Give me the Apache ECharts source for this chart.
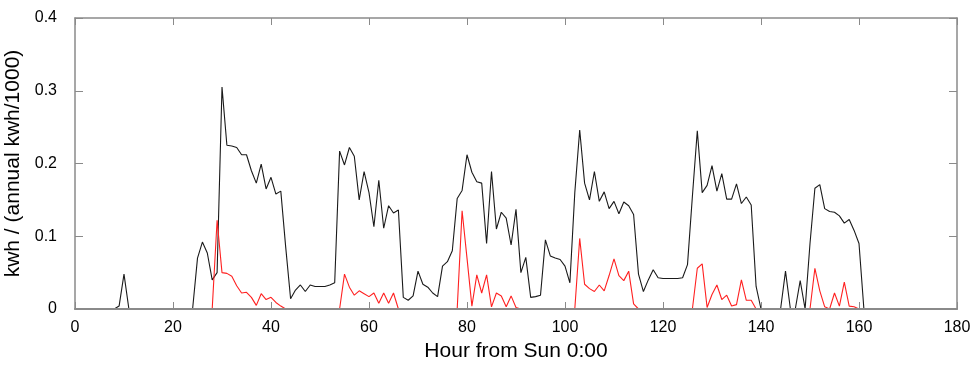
<!DOCTYPE html>
<html>
<head>
<meta charset="utf-8">
<script src="https://cdn.jsdelivr.net/npm/echarts@6/dist/echarts.min.js"></script>
<style>
html,body{margin:0;padding:0;background:#fff;}
#chart{width:980px;height:367px;}
</style>
</head>
<body>
<div id="chart"></div>
<script>
// Hours from Sunday 0:00 (0..167)
var hours = [];
for (var i = 0; i < 168; i++) hours.push(i);

// Total load (black)
var totalLoad = [
0,0,0,0,0,0,0,0,0,0.004,
0.048,0,0,0,0,0,0,0,0,0,
0,0,0,0,0,0.07,0.092,0.077,0.04,0.05,
0.305,0.225,0.224,0.222,0.212,0.212,0.19,0.173,0.199,0.165,
0.181,0.158,0.162,0.085,0.014,0.026,0.033,0.024,0.033,0.031,
0.031,0.031,0.033,0.036,0.217,0.198,0.222,0.21,0.15,0.189,
0.16,0.113,0.177,0.111,0.142,0.132,0.136,0.016,0.012,0.018,
0.052,0.034,0.03,0.022,0.017,0.059,0.065,0.08,0.152,0.163,
0.212,0.188,0.175,0.173,0.09,0.189,0.11,0.133,0.125,0.088,
0.137,0.05,0.071,0.016,0.017,0.019,0.095,0.073,0.07,0.068,
0.059,0.036,0.16,0.246,0.173,0.15,0.189,0.148,0.161,0.138,
0.148,0.131,0.147,0.142,0.13,0.048,0.024,0.04,0.054,0.043,
0.042,0.042,0.042,0.042,0.043,0.061,0.155,0.245,0.16,0.17,
0.197,0.162,0.186,0.151,0.151,0.172,0.145,0.154,0.143,0.031,
0,0,0,0,0,0.052,0,0,0.039,0,
0.09,0.166,0.171,0.138,0.134,0.133,0.128,0.118,0.123,0.108,
0.09,0,0,0,0,0,0,0
];

// Component load (red)
var partLoad = [
0,0,0,0,0,0,0,0,0,0,
0,0,0,0,0,0,0,0,0,0,
0,0,0,0,0,0,0,0,0,0.122,
0.05,0.049,0.045,0.032,0.022,0.023,0.016,0.005,0.021,0.013,
0.016,0.009,0.004,0,0,0,0,0,0,0,
0,0,0,0,0,0.048,0.03,0.019,0.025,0.021,
0.017,0.022,0.008,0.022,0.008,0.022,0,0,0,0,
0,0,0,0,0,0,0,0,0,0.135,
0.07,0.004,0.047,0.022,0.047,0.003,0.022,0.018,0.003,0.018,
0.002,0,0,0,0,0,0,0,0,0,
0,0,0,0.097,0.034,0.028,0.024,0.033,0.025,0.046,
0.069,0.046,0.039,0.052,0.007,0,0,0,0,0,
0,0,0,0,0,0,0,0.056,0.062,0.002,
0.02,0.033,0.013,0.019,0.004,0.006,0.04,0.012,0.012,0,
0,0,0,0,0,0,0,0,0,0,
0,0.056,0.025,0.003,0,0.022,0.004,0.037,0.004,0.003,
0,0,0,0,0,0,0,0
];

var xTicks = {min: 0, max: 180, interval: 20};
var yTicks = {min: 0, max: 0.4, interval: 0.1};

function pairs(vals){ return hours.map(function(h,i){ return [h, vals[i]]; }); }

var axisColor = '#8a8a8a';
var font = 'Liberation Sans, Arial, Helvetica, sans-serif';
var chart = echarts.init(document.getElementById('chart'), null, {renderer:'canvas'});
chart.setOption({
  animation: false,
  backgroundColor: '#fff',
  grid: {left: 75, right: 23, top: 18, bottom: 58, containLabel: false, outerBoundsMode: 'none'},
  xAxis: [{
    type: 'value', min: xTicks.min, max: xTicks.max, interval: xTicks.interval, z: 10, zlevel: 0,
    name: 'Hour from Sun 0:00', nameLocation: 'middle', nameGap: 32,
    nameTextStyle: {fontFamily: font, fontSize: 21, color: '#000'},
    axisLine: {show: true, onZero: false, lineStyle: {color: axisColor, width: 2.2}},
    axisTick: {show: true, inside: true, length: 7, lineStyle: {color: axisColor}},
    axisLabel: {fontFamily: font, fontSize: 16, color: '#000', margin: 11},
    splitLine: {show: false}
  },{
    type: 'value', position: 'top', min: xTicks.min, max: xTicks.max, interval: xTicks.interval, z: 10,
    axisLine: {show: true, onZero: false, lineStyle: {color: axisColor, width: 1.5}},
    axisTick: {show: true, inside: true, length: 7, lineStyle: {color: axisColor}},
    axisLabel: {show: false}, splitLine: {show: false}
  }],
  yAxis: [{
    type: 'value', min: yTicks.min, max: yTicks.max, interval: yTicks.interval, z: 10,
    name: 'kwh / (annual kwh/1000)', nameLocation: 'middle', nameGap: 45,
    nameTextStyle: {fontFamily: font, fontSize: 21, color: '#000'},
    axisLine: {show: true, onZero: false, lineStyle: {color: axisColor, width: 1.5}},
    axisTick: {show: true, inside: true, length: 8, lineStyle: {color: axisColor}},
    axisLabel: {fontFamily: font, fontSize: 16, color: '#000', margin: 18,
      formatter: function(v){ return v === 0 ? '0' : v.toFixed(1); }},
    splitLine: {show: false}
  },{
    type: 'value', position: 'right', min: yTicks.min, max: yTicks.max, interval: yTicks.interval, z: 10,
    axisLine: {show: true, onZero: false, lineStyle: {color: axisColor, width: 1.5}},
    axisTick: {show: true, inside: true, length: 8, lineStyle: {color: axisColor}},
    axisLabel: {show: false}, splitLine: {show: false}
  }],
  series: [{
    type: 'line', name: 'total', data: pairs(totalLoad), showSymbol: false, symbol: 'none',
    lineStyle: {color: '#1a1a1a', width: 1.1}, z: 2
  },{
    type: 'line', name: 'part', data: pairs(partLoad), showSymbol: false, symbol: 'none',
    lineStyle: {color: '#ff2020', width: 1.1}, z: 3
  }]
});
</script>
</body>
</html>
